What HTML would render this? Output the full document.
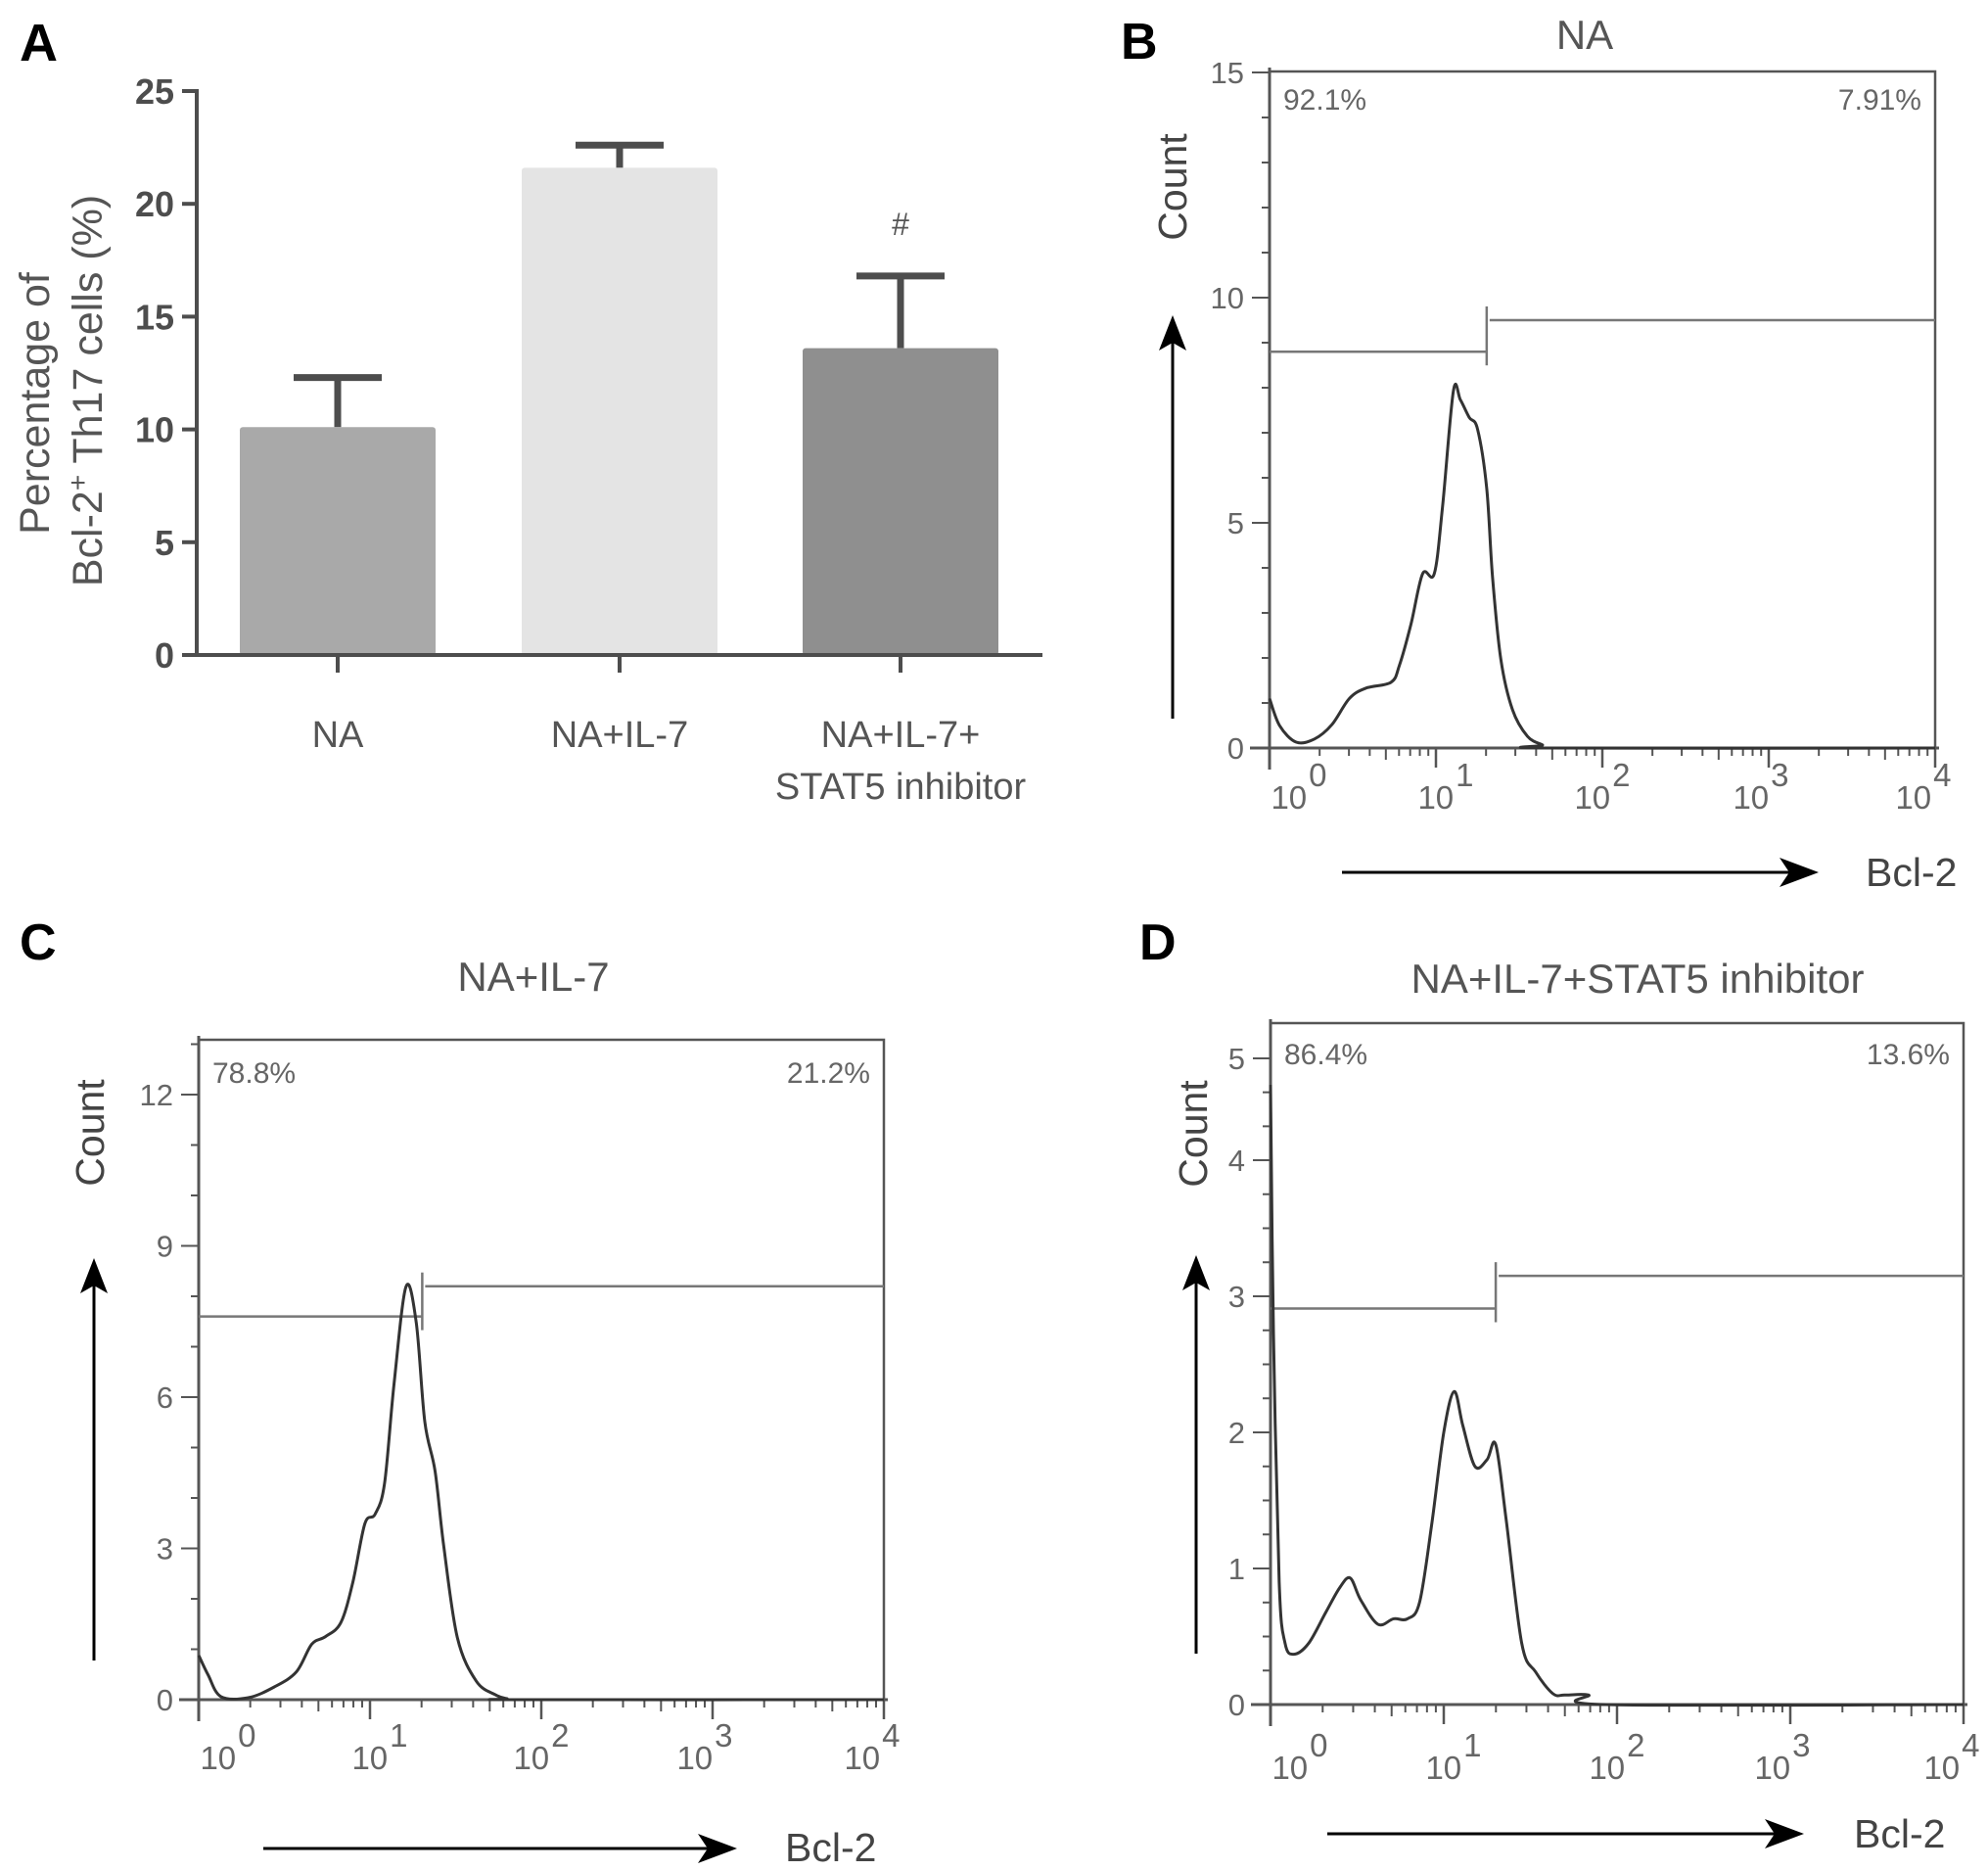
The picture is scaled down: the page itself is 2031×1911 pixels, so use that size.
<!DOCTYPE html>
<html><head><meta charset="utf-8">
<style>
html,body{margin:0;padding:0;background:#fff;}
svg{display:block;font-family:"Liberation Sans",Arial,sans-serif;}
</style></head>
<body>
<svg id="fig" width="2031" height="1911" viewBox="0 0 2031 1911" xmlns="http://www.w3.org/2000/svg">
<g id="pA"></g>
<g id="pB"></g>
<g id="pC"></g>
<g id="pD"></g>
</svg>
<script>
// ---------- Panel A data ----------
const barCategories = ["NA", "NA+IL-7", "NA+IL-7+ STAT5 inhibitor"];
const barValues = [10.1, 21.6, 13.6];
const barErrors = [2.2, 1.0, 3.2];
const barYTicks = [0, 5, 10, 15, 20, 25];

// ---------- Histogram data (log10 Bcl-2, count) ----------
const histBLog = [0,0.06,0.16,0.27,0.375,0.48,0.58,0.73,0.78,0.85,0.92,0.99,1.04,1.105,1.147,1.2,1.25,1.305,1.34,1.39,1.46,1.55,1.64,1.69,4];
const histBCount = [1.1,0.5,0.13,0.2,0.52,1.1,1.33,1.46,1.83,2.75,3.87,3.87,5.37,7.93,7.73,7.34,7.08,5.77,3.8,1.97,0.85,0.26,0.07,0,0];
const histCLog = [0,0.055,0.13,0.29,0.44,0.57,0.66,0.74,0.83,0.9,0.97,1.03,1.085,1.14,1.21,1.27,1.32,1.38,1.43,1.51,1.62,1.73,1.8,1.875,4];
const histCCount = [0.88,0.49,0.06,0.04,0.25,0.55,1.1,1.25,1.53,2.33,3.49,3.68,4.29,6.25,8.19,7.48,5.51,4.53,3.06,1.23,0.37,0.1,0.02,0,0];
const histDLog = [0,0.017,0.05,0.084,0.135,0.22,0.32,0.4,0.46,0.52,0.62,0.71,0.79,0.86,0.93,1.0,1.06,1.11,1.18,1.25,1.3,1.36,1.45,1.53,1.63,1.7,1.835,1.94,4];
const histDCount = [4.74,2.73,0.9,0.45,0.37,0.45,0.68,0.86,0.93,0.77,0.59,0.63,0.63,0.75,1.32,2.0,2.3,2.05,1.75,1.8,1.91,1.36,0.45,0.24,0.08,0.07,0.07,0,0];
const gateB = [1.305, 8.8, 9.5];
const gateC = [1.305, 7.6, 8.2];
const gateD = [1.30, 2.91, 3.15];
const pctB = ["92.1%", "7.91%"];
const pctC = ["78.8%", "21.2%"];
const pctD = ["86.4%", "13.6%"];
const yTicksB = [0, 5, 10, 15];
const yTicksC = [0, 3, 6, 9, 12];
const yTicksD = [0, 1, 2, 3, 4, 5];
const decades = [0, 1, 2, 3, 4];

const NS = "http://www.w3.org/2000/svg";
function mk(parent, tag, attrs, text) {
  const e = document.createElementNS(NS, tag);
  for (const k in attrs) e.setAttribute(k, attrs[k]);
  if (text !== undefined) e.textContent = text;
  parent.appendChild(e);
  return e;
}

// ---------- Panel A ----------
(function () {
  const g = document.getElementById("pA");
  const X0 = 201, Y0 = 669, YTOP = 93, XEND = 1065;
  const yS = v => Y0 - (v / 25) * (Y0 - YTOP);
  const centers = [345, 633, 920];
  const colors = ["#a9a9a9", "#e4e4e4", "#8f8f8f"];
  const bw = 200;
  let t = mk(g, "text", {x: 20, y: 62, "font-size": 54, "font-weight": "bold", fill: "#000"}, "A");
  
  
  barValues.forEach((v, i) => {
    const cx = centers[i];
    const eb = mk(g, "line", {x1: cx, x2: cx, y1: yS(v), y2: yS(v + barErrors[i]), stroke: "#4d4d4d", "stroke-width": 7});
    
    
    const cap = mk(g, "line", {x1: cx - 45, x2: cx + 45, y1: yS(v + barErrors[i]), y2: yS(v + barErrors[i]), stroke: "#4d4d4d", "stroke-width": 7});
    
    
    const r = mk(g, "rect", {x: cx - bw / 2, y: yS(v), width: bw, height: Y0 - yS(v), fill: colors[i], rx: 3});
    
    
    const tk = mk(g, "line", {x1: cx, x2: cx, y1: Y0, y2: 687, stroke: "#4d4d4d", "stroke-width": 4});
    
    
  });
  const ya = mk(g, "line", {x1: X0, x2: X0, y1: YTOP - 2, y2: Y0 + 2, stroke: "#4d4d4d", "stroke-width": 4});
  
  
  const xa = mk(g, "line", {x1: 187, x2: XEND, y1: Y0, y2: Y0, stroke: "#4d4d4d", "stroke-width": 4});
  
  
  barYTicks.forEach(v => {
    const l = mk(g, "line", {x1: 186, x2: X0, y1: yS(v), y2: yS(v), stroke: "#4d4d4d", "stroke-width": 4});
    
    
    const tt = mk(g, "text", {x: 178, y: yS(v) + 13, "font-size": 36, "font-weight": "bold", fill: "#4d4d4d", "text-anchor": "end"}, String(v));
    
    
  });
  const l1 = mk(g, "text", {x: centers[0], y: 763, "font-size": 38, fill: "#555", "text-anchor": "middle"}, barCategories[0]);
  
  
  const l2 = mk(g, "text", {x: centers[1], y: 763, "font-size": 38, fill: "#555", "text-anchor": "middle"}, barCategories[1]);
  
  
  const l3 = mk(g, "text", {x: centers[2], y: 763, "font-size": 38, fill: "#555", "text-anchor": "middle"}, "NA+IL-7+");
  
  
  const l4 = mk(g, "text", {x: centers[2], y: 816, "font-size": 38, fill: "#555", "text-anchor": "middle"}, "STAT5 inhibitor");
  
  
  const hs = mk(g, "text", {x: centers[2], y: 240, "font-size": 32, fill: "#555", "text-anchor": "middle"}, "#");
  
  
  const yt1 = mk(g, "text", {x: 0, y: 0, "font-size": 43, fill: "#555", "text-anchor": "middle", transform: "translate(50,412) rotate(-90)"}, "Percentage of");
  
  
  const yt2 = mk(g, "text", {x: 0, y: 0, "font-size": 43, fill: "#555", "text-anchor": "middle", transform: "translate(104,399) rotate(-90)"});
  
  
  mk(yt2, "tspan", {}, "Bcl-2");
  mk(yt2, "tspan", {dy: -15, "font-size": 28}, "+");
  mk(yt2, "tspan", {dy: 15}, " Th17 cells (%)");
})();

// ---------- Histogram panels ----------
function histPanel(cfg) {
  const g = document.getElementById(cfg.id);
  const xS = d => cfg.x0 + d * cfg.dec;
  const yS = cfg.yS;
  const right = xS(4);
  const stroke = "#555";
  let t = mk(g, "text", {x: cfg.letter[1], y: cfg.letter[2], "font-size": 52, "font-weight": "bold", fill: "#000"}, cfg.letter[0]);
  
  
  t = mk(g, "text", {x: cfg.title[1], y: cfg.title[2], "font-size": 42, fill: "#555", "text-anchor": "middle"}, cfg.title[0]);
  
  
  const box = mk(g, "rect", {x: cfg.x0, y: cfg.top, width: right - cfg.x0, height: yS(0) - cfg.top, fill: "none", stroke: stroke, "stroke-width": 2.5});
  
  
  const yx = mk(g, "line", {x1: cfg.x0, x2: cfg.x0, y1: cfg.top - 4, y2: yS(0) + 22, stroke: stroke, "stroke-width": 3});
  
  
  cfg.minor.forEach(v => {
    const l = mk(g, "line", {x1: cfg.x0 - 8, x2: cfg.x0, y1: yS(v), y2: yS(v), stroke: stroke, "stroke-width": 2});
    
    
  });
  cfg.yTicks.forEach(v => {
    const l = mk(g, "line", {x1: cfg.x0 - 18, x2: cfg.x0, y1: yS(v), y2: yS(v), stroke: stroke, "stroke-width": 2});
    
    
    const tt = mk(g, "text", {x: cfg.x0 - 26, y: yS(v) + 11, "font-size": 31, fill: "#666", "text-anchor": "end"}, String(v));
    
    
  });
  const xa = mk(g, "line", {x1: cfg.x0 - 20, x2: right + 4, y1: yS(0), y2: yS(0), stroke: stroke, "stroke-width": 3});
  
  
  const offs = [30, 10, 0, -8, -12];
  decades.forEach(d => {
    const l = mk(g, "line", {x1: xS(d), x2: xS(d), y1: yS(0), y2: yS(0) + 20, stroke: stroke, "stroke-width": 2.5});
    
    
    if (d < 4) for (let m = 2; m <= 9; m++) {
      const mx = xS(d + Math.log10(m));
      const ml = mk(g, "line", {x1: mx, x2: mx, y1: yS(0), y2: yS(0) + (m === 5 ? 12 : 8), stroke: stroke, "stroke-width": 2});
      
      
    }
    const lab = mk(g, "text", {x: xS(d) + offs[d], y: cfg.xlabY, "font-size": 33, fill: "#666", "text-anchor": "middle"});
    
    
    mk(lab, "tspan", {}, "10");
    mk(lab, "tspan", {dy: -23, dx: 2}, String(d));
  });
  const gx = xS(cfg.gate[0]);
  const g1 = mk(g, "line", {x1: cfg.x0, x2: gx, y1: yS(cfg.gate[1]), y2: yS(cfg.gate[1]), stroke: "#777", "stroke-width": 2.5});
  
  
  const g2 = mk(g, "line", {x1: gx + 3, x2: right, y1: yS(cfg.gate[2]), y2: yS(cfg.gate[2]), stroke: "#777", "stroke-width": 2.5});
  
  
  const gv = mk(g, "line", {x1: gx, x2: gx, y1: yS(cfg.gate[2]) - 14, y2: yS(cfg.gate[1]) + 14, stroke: "#777", "stroke-width": 2.5});
  
  
  let p = mk(g, "text", {x: cfg.x0 + 14, y: cfg.pctY, "font-size": 30, fill: "#666"}, cfg.pct[0]);
  
  
  p = mk(g, "text", {x: right - 14, y: cfg.pctY, "font-size": 30, fill: "#666", "text-anchor": "end"}, cfg.pct[1]);
  
  
  const pts = cfg.logs.map((d, i) => [xS(d), yS(cfg.counts[i])]);
  let dstr = "M" + pts[0][0] + "," + pts[0][1];
  for (let i = 0; i < pts.length - 1; i++) {
    const p0 = pts[Math.max(0, i - 1)], p1 = pts[i], p2 = pts[i + 1], p3 = pts[Math.min(pts.length - 1, i + 2)];
    const c1 = [p1[0] + (p2[0] - p0[0]) / 6, p1[1] + (p2[1] - p0[1]) / 6];
    const c2 = [p2[0] - (p3[0] - p1[0]) / 6, p2[1] - (p3[1] - p1[1]) / 6];
    dstr += " C" + c1[0] + "," + c1[1] + " " + c2[0] + "," + c2[1] + " " + p2[0] + "," + p2[1];
  }
  const cv = mk(g, "path", {d: dstr, fill: "none", stroke: "#333", "stroke-width": 3, "stroke-linejoin": "round"});
  
  
  const va = cfg.vArrow;
  const vl = mk(g, "line", {x1: va[0], x2: va[0], y1: va[1], y2: va[2] + 20, stroke: "#000", "stroke-width": 3});
  
  
  const vh = mk(g, "polygon", {points: `${va[0]},${va[2]} ${va[0]-14},${va[2]+36} ${va[0]},${va[2]+28} ${va[0]+14},${va[2]+36}`, fill: "#000"});
  
  
  const ct = mk(g, "text", {x: 0, y: 0, "font-size": 41, fill: "#444", "text-anchor": "middle", transform: `translate(${cfg.count[0]},${cfg.count[1]}) rotate(-90)`}, "Count");
  
  
  const ha = cfg.hArrow;
  const hl = mk(g, "line", {x1: ha[0], x2: ha[1] - 20, y1: ha[2], y2: ha[2], stroke: "#000", "stroke-width": 3});
  
  
  const hh = mk(g, "polygon", {points: `${ha[1]},${ha[2]} ${ha[1]-40},${ha[2]-15} ${ha[1]-30},${ha[2]} ${ha[1]-40},${ha[2]+15}`, fill: "#000"});
  
  
  const bt = mk(g, "text", {x: cfg.bcl[0], y: cfg.bcl[1], "font-size": 41, fill: "#444"}, "Bcl-2");
  
  
}

function range(a, b, s) { const r = []; for (let v = a; v <= b + 1e-9; v += s) r.push(v); return r; }

histPanel({id: "pB", x0: 1297, dec: 170, top: 73, yS: v => 764 - v * 46, yTicks: yTicksB, minor: range(0, 15, 1),
  logs: histBLog, counts: histBCount, gate: gateB, pct: pctB, pctY: 112, xlabY: 826,
  letter: ["B", 1145, 60], title: ["NA", 1619, 50], vArrow: [1198, 734, 322], count: [1212, 191],
  hArrow: [1371, 1858, 891], bcl: [1906, 905]});
histPanel({id: "pC", x0: 203, dec: 175, top: 1062, yS: v => 1736 - v * 51.5, yTicks: yTicksC, minor: range(0, 13, 1),
  logs: histCLog, counts: histCCount, gate: gateC, pct: pctC, pctY: 1106, xlabY: 1807,
  letter: ["C", 20, 980], title: ["NA+IL-7", 545, 1012], vArrow: [96, 1696, 1285], count: [106, 1157],
  hArrow: [269, 753, 1888], bcl: [802, 1901]});
histPanel({id: "pD", x0: 1298, dec: 177, top: 1045, yS: v => v <= 4 ? 1741 - v * 139 : 1185 - (v - 4) * 104, yTicks: yTicksD, minor: range(0, 4, 0.25).concat([4.333, 4.667, 5]),
  logs: histDLog, counts: histDCount, gate: gateD, pct: pctD, pctY: 1087, xlabY: 1817,
  letter: ["D", 1164, 980], title: ["NA+IL-7+STAT5 inhibitor", 1673, 1014], vArrow: [1222, 1689, 1282], count: [1233, 1158],
  hArrow: [1356, 1843, 1873], bcl: [1894, 1887]});
</script>
</body></html>
